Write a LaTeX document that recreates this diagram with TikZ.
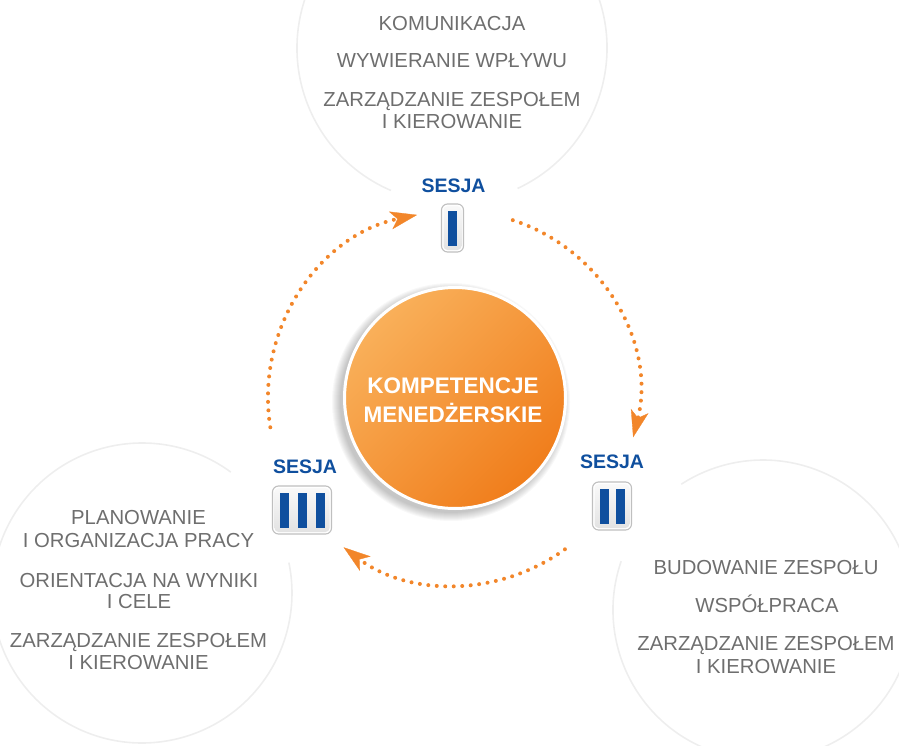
\documentclass[tikz,border=0pt]{standalone}
\usepackage{fontspec}
\setmainfont{Liberation Sans}
\usetikzlibrary{arrows.meta}
\definecolor{txtgray}{HTML}{6E6E6E}
\definecolor{sblue}{HTML}{0F4F9E}
\definecolor{orA}{HTML}{F9B05A}
\definecolor{orB}{HTML}{F07D1B}
\definecolor{arr}{HTML}{F2862A}
\definecolor{ringc}{HTML}{EEEEEE}
\begin{document}
\begin{tikzpicture}[x=1pt,y=-1pt,
  gtxt/.style={anchor=base, inner sep=0pt, text=txtgray, font=\fontsize{20.3}{22}\selectfont},
  stxt/.style={anchor=base, inner sep=0pt, text=sblue, font=\fontsize{19.5}{22}\selectfont\bfseries},
  ctxt/.style={anchor=base, inner sep=0pt, text=white, font=\fontsize{22.5}{26}\selectfont\bfseries},
  ringline/.style={draw=ringc, line width=1.6pt},
  dotarc/.style={draw=arr, line width=4pt, line cap=round, dash pattern=on 0pt off 8.5pt,
     -{Stealth[length=27pt,width=18pt,inset=7pt,line width=0.3pt,fill=arr]}},
  segout/.style={draw=gray!50, fill=white, line width=1.1pt, rounded corners=6pt},
  segin/.style={top color=gray!5, bottom color=gray!22, rounded corners=4pt},
  bar/.style={fill=sblue},
]
\useasboundingbox (0,0) rectangle (899,746);

% faint background rings
\draw[ringline] ([shift={(-295:155)}]452,48) arc[start angle=-295, end angle=-606.8, radius=155];
\draw[ringline] ([shift={(-53.7:150)}]142,593) arc[start angle=-53.7, end angle=-371.7, radius=150];
\draw[ringline] ([shift={(-161:150)}]763,610) arc[start angle=-161, end angle=-483, radius=150];

% top texts
\node[gtxt] (t1) at (452,31) {KOMUNIKACJA};
\node[gtxt] (t2) at (452,68) {WYWIERANIE WPŁYWU};
\node[gtxt] (t3) at (452,107) {ZARZĄDZANIE ZESPOŁEM};
\node[gtxt] (t4) at (452,129) {I KIEROWANIE};
% left texts
\node[gtxt] (l1) at (138.5,524) {PLANOWANIE};
\node[gtxt] (l2) at (138.5,547) {I ORGANIZACJA PRACY};
\node[gtxt] (l3) at (139,587) {ORIENTACJA NA WYNIKI};
\node[gtxt] (l4) at (139,608) {I CELE};
\node[gtxt] (l5) at (138.5,647) {ZARZĄDZANIE ZESPOŁEM};
\node[gtxt] (l6) at (138.5,669) {I KIEROWANIE};
% right texts
\node[gtxt] (r1) at (766,574) {BUDOWANIE ZESPOŁU};
\node[gtxt] (r2) at (767,612) {WSPÓŁPRACA};
\node[gtxt] (r3) at (766,650) {ZARZĄDZANIE ZESPOŁEM};
\node[gtxt] (r4) at (766,673) {I KIEROWANIE};

% session labels
\node[stxt] (s1) at (453.5,193) {SESJA};
\node[stxt] (s2) at (612,468) {SESJA};
\node[stxt] (s3) at (305,473) {SESJA};

% session boxes
% I
\draw[segout] (441.5,204) rectangle (463.5,252);
\shade[segin] (443.5,206) rectangle (461.5,250);
\fill[bar] (448,210.5) rectangle (457,245.5);
% II
\draw[segout] (592.5,482) rectangle (631.5,530);
\shade[segin] (594.5,484) rectangle (629.5,528);
\fill[bar] (599.5,488.5) rectangle (608.5,523.5);
\fill[bar] (615.5,488.5) rectangle (624.5,523.5);
% III
\draw[segout] (272.5,486) rectangle (331.5,534);
\shade[segin] (274.5,488) rectangle (329.5,532);
\fill[bar] (279.5,492.5) rectangle (288.5,527.5);
\fill[bar] (297.5,492.5) rectangle (306.5,527.5);
\fill[bar] (315.5,492.5) rectangle (324.5,527.5);

% central circle with soft shadow
\foreach \i in {1,...,9} \fill[black, opacity=0.028] (451,402) circle[radius=110+\i];
\node[circle, minimum size=221pt, inner sep=0pt, draw=white, line width=3pt,
      top color=orA, bottom color=orB, shading angle=45] (core) at (455,398) {};
\node[ctxt] (k1) at (453,393) {KOMPETENCJE};
\node[ctxt] (k2) at (453,422) {MENEDŻERSKIE};

% dotted cycle arrows
\coordinate (c) at (455,398);
\coordinate (a1) at ([shift={(-189:187)}]c);
\coordinate (a2) at ([shift={(-72:187)}]c);
\coordinate (a3) at ([shift={(54:187)}]c);
\draw[dotarc] (a1) arc[start angle=-189, end angle=-101.7, radius=187];
\draw[dotarc] (a2) arc[start angle=-72, end angle=14, radius=182];
\draw[dotarc] (a3) arc[start angle=54, end angle=127, radius=186];
\end{tikzpicture}
\end{document}
